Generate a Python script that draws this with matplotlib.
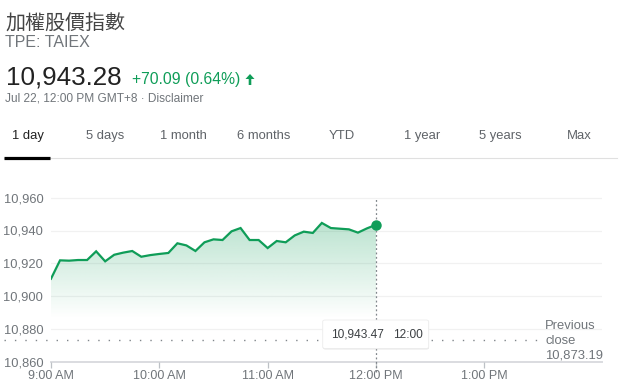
import matplotlib
matplotlib.use("Agg")
import matplotlib.pyplot as plt
import numpy as np
from matplotlib.patches import FancyBboxPatch, Polygon

plt.rcParams['font.family'] = ['Liberation Sans', 'Noto Sans CJK TC', 'DejaVu Sans']

# --- data ---
title = "加權股價指數"
ticker = "TPE: TAIEX"
last_price = "10,943.28"
change = "+70.09 (0.64%)"
stamp = "Jul 22, 12:00 PM GMT+8 · Disclaimer"
tabs = ["1 day", "5 days", "1 month", "6 months", "YTD", "1 year", "5 years", "Max"]

times = ["9:00", "9:05", "9:10", "9:15", "9:20", "9:25", "9:30", "9:35", "9:40", "9:45",
         "9:50", "9:55", "10:00", "10:05", "10:10", "10:15", "10:20", "10:25", "10:30", "10:35",
         "10:40", "10:45", "10:50", "10:55", "11:00", "11:05", "11:10", "11:15", "11:20", "11:25",
         "11:30", "11:35", "11:40", "11:45", "11:50", "11:55", "12:00"]
values = [10910.6, 10921.8, 10921.6, 10922.0, 10922.0, 10927.3, 10921.2, 10925.2, 10926.5, 10927.5,
          10924.0, 10925.0, 10925.7, 10926.3, 10932.2, 10930.9, 10927.5, 10932.8, 10934.6, 10934.2,
          10939.5, 10941.5, 10934.2, 10934.2, 10929.3, 10933.6, 10932.8, 10937.0, 10939.3, 10938.5,
          10944.6, 10941.5, 10941.1, 10940.7, 10938.7, 10941.3, 10943.47]
prev_close = 10873.19
y_ticks = [10860, 10880, 10900, 10920, 10940, 10960]
x_ticks = [9, 10, 11, 12, 13]
x_labels = ["9:00 AM", "10:00 AM", "11:00 AM", "12:00 PM", "1:00 PM"]

GREEN = '#0f9d58'
GREY = '#70757a'
DARK = '#222222'
W, H = 643, 391


def px(x, y):
    # pixel position (top-left origin) -> figure fraction
    return x / W, 1 - y / H


hours = np.array([int(t.split(':')[0]) + int(t.split(':')[1]) / 60 for t in times])
vals = np.array(values)

fig = plt.figure(figsize=(W / 100, H / 100), dpi=100)
fig.patch.set_facecolor('white')

# header
fig.text(*px(5, 29.5), title, fontsize=14.4, color='#444444', va='baseline',
         family=['Noto Sans CJK TC'])
fig.text(*px(5, 46.7), ticker, fontsize=11.5, color=GREY, va='baseline')
fig.text(*px(6, 85), last_price, fontsize=18.7, color=DARK, va='baseline')
fig.text(*px(132.5, 84.3), change, fontsize=11.3, color=GREEN, va='baseline')
arrow = [(250, 74), (254.5, 79), (251.3, 79), (251.3, 85), (248.7, 85), (248.7, 79), (245.5, 79)]
fig.patches.append(Polygon([px(a, b) for a, b in arrow], closed=True, transform=fig.transFigure,
                           facecolor=GREEN, edgecolor='none'))
fig.text(*px(5, 101.7), stamp, fontsize=8.6, color=GREY, va='baseline')

# tabs
tab_x = [11.5, 86.4, 160.5, 236.6, 329, 404, 479, 567]
for i, (lab, tx) in enumerate(zip(tabs, tab_x)):
    fig.text(*px(tx, 139), lab, fontsize=9.4, va='baseline',
             color=DARK if i == 0 else '#5f6368')
fig.add_artist(plt.Line2D([px(4, 0)[0], px(617, 0)[0]], [px(0, 157.5)[1]] * 2,
                          color='#e0e0e0', lw=0.8, transform=fig.transFigure))
fig.add_artist(plt.Line2D([px(4, 0)[0], px(50, 0)[0]], [px(0, 157.5)[1]] * 2,
                          color='black', lw=2.3, transform=fig.transFigure, solid_capstyle='butt'))

# chart
ax = fig.add_axes([51 / W, 1 - 361.7 / H, 551 / W, 167.7 / H])
ax.set_xlim(9.0, 9.0 + 551 / 108.33)
ax.set_ylim(10860, 10860 + 167.7 / 1.64)
for s in ['top', 'right', 'left']:
    ax.spines[s].set_visible(False)
ax.spines['bottom'].set_color('#dadce0')
ax.spines['bottom'].set_linewidth(1.4)
ax.spines['bottom'].set_zorder(1)

for yt in y_ticks[1:]:
    ax.axhline(yt, color='#f1f1f1', lw=0.9, zorder=0)

ax.set_yticks(y_ticks)
ax.set_yticklabels([f"{v:,}" for v in y_ticks])
ax.tick_params(axis='y', length=0, pad=5.5, labelsize=9.3, labelcolor=GREY)
ax.set_xticks(x_ticks)
ax.set_xticklabels(x_labels)
ax.tick_params(axis='x', length=4.2, width=0.9, color='#bdc1c6', pad=1.5,
               labelsize=9.0, labelcolor=GREY)

# gradient fill under the line
base = 10886
poly = ax.fill_between(hours, vals, base, facecolor='none', edgecolor='none')
grad = np.zeros((100, 1, 4))
grad[..., 0], grad[..., 1], grad[..., 2] = 15 / 255, 157 / 255, 88 / 255
grad[:, 0, 3] = np.linspace(0.28, 0.0, 100)
img = ax.imshow(grad, extent=[hours[0], hours[-1], base, vals.max()], origin='upper',
                aspect='auto', zorder=1, interpolation='bilinear')
img.set_clip_path(poly.get_paths()[0], transform=ax.transData)
ax.set_xlim(9.0, 9.0 + 551 / 108.33)
ax.set_ylim(10860, 10860 + 167.7 / 1.64)

ax.plot(hours, vals, color=GREEN, lw=1.6, zorder=3, solid_joinstyle='miter')
ax.plot(hours[-1], vals[-1], 'o', color=GREEN, ms=6.5, zorder=4)

# previous close dotted line
ax.plot([9.0 - 47 / 108.33, 9.0 + 489 / 108.33], [prev_close, prev_close], color='#80868b',
        lw=1.0, ls=(0, (1, 6.5)), clip_on=False, zorder=2)
# cursor line at last point
ax.plot([hours[-1], hours[-1]], [10860 - 10 / 1.64, 10960.3], color='#80868b',
        lw=0.9, ls=(0, (1.5, 2)), clip_on=False, zorder=2)

# tooltip
shadow = FancyBboxPatch(px(323, 349.5), 106 / W, 28.5 / H, boxstyle='round,pad=0,rounding_size=0.004',
                        transform=fig.transFigure, facecolor='#cccccc', edgecolor='none', alpha=0.5,
                        zorder=5)
box = FancyBboxPatch(px(322.7, 348.5), 106 / W, 28.5 / H, boxstyle='round,pad=0,rounding_size=0.004',
                     transform=fig.transFigure, facecolor='white', edgecolor='#ececec', lw=0.6, zorder=6)
fig.add_artist(shadow)
fig.add_artist(box)
fig.text(*px(331.5, 337.7), f"{vals[-1]:,.2f}", fontsize=8.6, color='#3c4043', va='baseline', zorder=7)
fig.text(*px(392.7, 337.7), times[-1], fontsize=8.6, color='#3c4043', va='baseline', zorder=7)

# previous close label
fig.text(*px(545, 329), "Previous", fontsize=9.4, color=GREY, va='baseline')
fig.text(*px(545, 343.5), "close", fontsize=9.4, color=GREY, va='baseline')
fig.text(*px(545, 358.3), f"{prev_close:,.2f}", fontsize=9.4, color=GREY, va='baseline')

fig.savefig('out.png', dpi=100, facecolor='white')
